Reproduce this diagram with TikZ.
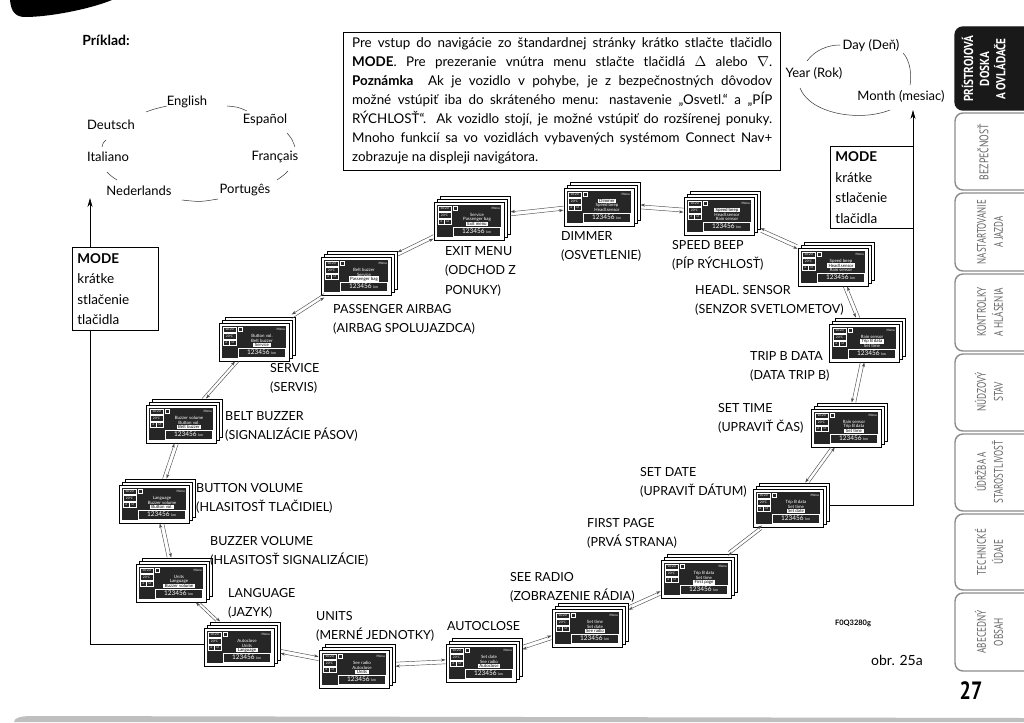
\documentclass[tikz,border=0pt]{standalone}
\usepackage{fontspec}
\setmainfont{Lato}
\newfontfamily\tabfont{PT Sans}
\usetikzlibrary{arrows.meta}

\newcommand\dispbox[7]{%
  \ifnum#7=1 \def\stA{hlon}\else\def\stA{hloff}\fi
  \ifnum#7=2 \def\stB{hlon}\else\def\stB{hloff}\fi
  \ifnum#7=3 \def\stC{hlon}\else\def\stC{hloff}\fi
  \begin{scope}[shift={(#2,#3)}]
    \filldraw[scrframe] (6,-6) rectangle (76,32);
    \filldraw[scrframe] (3,-3) rectangle (73,35);
    \filldraw[scrframe] (0,0) rectangle (70,38);
    \fill[scrbg] (3,3) rectangle (67,35);
    \draw[scrline] (4,4) rectangle (17,9.5) (4,10.5) rectangle (17,16)
      (4,17) rectangle (10.5,22.5) (10.5,17) rectangle (17,22.5)
      (19.5,4.5) rectangle (23.5,8.5) (19,25) rectangle (66,34);
    \node[scrsmall] at (10.5,6.75) {10:20};
    \node[scrsmall] at (10.5,13.25) {20°C};
    \node[scrsmall] at (7.25,19.75) {2};
    \node[scrsmall] at (13.75,19.75) {D};
    \node[scrsmall,anchor=east] at (66,6.5) {Menu};
    \node[scrtxt,\stA] at (43,13) {#4};
    \node[scrtxt,\stB] at (43,17.5) {#5};
    \node[scrtxt,\stC] at (43,22) {#6};
    \node[scrkm] at (42.5,29.5) {123456 {\fontsize{3.5}{3.5}\selectfont km}};
  \end{scope}
  \node[hitbox] (#1) at (#2+38,#3+16) {};
}
\newcommand\linkh[2]{%
  \draw[conn,transform canvas={yshift=2pt}] (#1) -- (#2);
  \draw[conn,transform canvas={yshift=-2pt}] (#2) -- (#1);}
\newcommand\linkv[2]{%
  \draw[conn,transform canvas={xshift=2pt}] (#1) -- (#2);
  \draw[conn,transform canvas={xshift=-2pt}] (#2) -- (#1);}

\begin{document}
\begin{tikzpicture}[x=1pt,y=-1pt,
  conn/.style={draw=black!70,line width=0.45pt,-{Stealth[length=4.5pt,width=3pt]}},
  scrframe/.style={fill=white,draw=black,line width=0.45pt},
  scrbg/.style={fill=black!85},
  scrline/.style={draw=white,line width=0.3pt},
  scrsmall/.style={text=white,font=\fontsize{3.2}{3.2}\selectfont,inner sep=0pt},
  scrtxt/.style={font=\fontsize{4.4}{4.4}\selectfont,inner sep=0.5pt},
  hlon/.style={fill=white,text=black,inner xsep=1.5pt},
  hloff/.style={text=white},
  scrkm/.style={text=white,font=\fontsize{6.5}{6.5}\selectfont,inner sep=0pt},
  hitbox/.style={minimum width=76pt,minimum height=44pt,inner sep=0pt,outer sep=0.5pt},
  lbl/.style={anchor=north west,align=left,inner sep=0pt,font=\fontsize{12.5}{19.5}\selectfont},
  ring/.style={inner sep=0pt,font=\fontsize{13}{15}\selectfont},
  arc/.style={draw=black!80,line width=0.5pt},
  modearrow/.style={draw=black,line width=0.7pt,-{Stealth[length=9pt,width=5pt]}},
  modebox/.style={draw=black,line width=0.8pt,fill=white,anchor=north west,align=left,
     text width=76pt,inner xsep=5pt,inner ysep=0pt,font=\fontsize{13.5}{20.5}\selectfont},
  tabedge/.style={draw=black!45,line width=1.4pt,rounded corners=8pt},
  tabtxt/.style={rotate=90,inner sep=0pt,text=black!60,font=\tabfont\fontsize{12.5}{17}\selectfont}
]
\useasboundingbox (0,0) rectangle (1024,722);
\fill[white] (0,0) rectangle (1024,722);

% scan edges
\fill[black] (10,0) -- (112,0) .. controls (90,9) and (50,17) .. (25,17)
  .. controls (15,17) and (11,11) .. (10,0) -- cycle;
\fill[black!25] (14,722) .. controls (14,718) and (20,716) .. (32,716) -- (1024,718) -- (1024,722) -- cycle;

\node[inner sep=0pt,font=\bfseries\fontsize{14}{16}\selectfont] (prik) at (106,40) {Príklad:};

% language ring
\node[ring] (de) at (111,125) {Deutsch};
\node[ring] (en) at (187,102) {English};
\node[ring] (es) at (265,120) {Español};
\node[ring] (it) at (108,157) {Italiano};
\node[ring] (fr) at (275,157) {Français};
\node[ring] (nl) at (139,191) {Nederlands};
\node[ring] (pt) at (245,190) {Portugês};
\draw[arc] (146,112) .. controls (154,109) .. (167,106);
\draw[arc] (227,106) .. controls (238,107) .. (247,111);
\draw[arc] (287,133) .. controls (292,139) .. (295,147);
\draw[arc] (288,171) .. controls (284,175) .. (277,180);
\draw[arc] (182,200) .. controls (200,202) .. (218,199);
\draw[arc] (107,172) .. controls (111,176) .. (117,180);
\draw[arc] (102,147) .. controls (103,143) .. (106,140);

% date ring
\node[ring] (day) at (871,46) {Day (Deň)};
\node[ring] (year) at (814,73) {Year (Rok)};
\node[ring] (month) at (901,96) {Month (mesiac)};
\draw[arc] (807,61) .. controls (815,50) and (828,45) .. (840,45);
\draw[arc] (903,53) .. controls (910,60) and (912,75) .. (910,85);
\draw[arc] (890,110) .. controls (860,122) and (810,114) .. (800,88);

% info box
\draw[line width=0.8pt] (343,32) rectangle (780,170);
\node[anchor=north west,inner sep=0pt,align=left,font=\fontsize{13.4}{19}\selectfont] (info) at (352,37) {%
\makebox[420pt][s]{Pre vstup do navigácie zo štandardnej stránky krátko stlačte tlačidlo}\\
\makebox[420pt][s]{\textbf{MODE}. Pre prezeranie vnútra menu stlačte tlačidlá $\Delta$ alebo $\nabla$.}\\
\makebox[420pt][s]{\textbf{Poznámka}\ \ Ak je vozidlo v pohybe, je z bezpečnostných dôvodov}\\
\makebox[420pt][s]{možné vstúpiť iba do skráteného menu: nastavenie „Osvetl.“ a „PÍP}\\
\makebox[420pt][s]{RÝCHLOSŤ“. Ak vozidlo stojí, je možné vstúpiť do rozšírenej ponuky.}\\
\makebox[420pt][s]{Mnoho funkcií sa vo vozidlách vybavených systémom Connect Nav+}\\
zobrazuje na displeji navigátora.};

% screens
\dispbox{LANG}{204}{628}{Autoclose}{Units}{Language}{3}
\dispbox{UNITS}{319}{650}{See radio}{Autoclose}{Units}{3}
\dispbox{AUTO}{446}{644}{Set date}{See radio}{Autoclose}{3}
\dispbox{SEE}{552}{609}{Set time}{Set date}{See radio}{3}
\dispbox{FIRST}{661}{560}{Trip B data}{Set time}{First page}{3}
\dispbox{DATE}{753}{489}{Trip B data}{Set time}{Set date}{3}
\dispbox{TIME}{811}{409}{Rain sensor}{Trip B data}{Set time}{3}
\dispbox{TRIP}{829}{324}{Rain sensor}{Trip B data}{Set time}{2}
\dispbox{HEADL}{798}{248}{Speed beep}{Headl.sensor}{Rain sensor}{2}
\dispbox{SPEED}{684}{197}{Speed beep}{Headl.sensor}{Rain sensor}{1}
\dispbox{DIMMER}{564}{188}{Dimmer}{Speed beep}{Headl.sensor}{1}
\dispbox{EXIT}{434}{202}{Service}{Passenger bag}{Exit menu}{3}
\dispbox{PASS}{321}{257}{Belt buzzer}{Service}{Passenger bag}{3}
\dispbox{SERV}{219}{323}{Button vol.}{Belt buzzer}{Service}{3}
\dispbox{BELT}{146}{405}{Buzzer volume}{Button vol.}{Belt buzzer}{3}
\dispbox{BUTTON}{119}{485}{Language}{Buzzer volume}{Button vol.}{3}
\dispbox{BUZZ}{136}{564}{Units}{Language}{Buzzer volume}{3}

% connectors
\linkh{LANG}{UNITS}
\linkh{UNITS}{AUTO}
\linkh{AUTO}{SEE}
\linkh{SEE}{FIRST}
\linkh{FIRST}{DATE}
\linkv{DATE}{TIME}
\linkv{TIME}{TRIP}
\linkv{TRIP}{HEADL}
\linkh{HEADL}{SPEED}
\linkh{SPEED}{DIMMER}
\linkh{DIMMER}{EXIT}
\linkh{EXIT}{PASS}
\linkh{PASS}{SERV}
\linkv{SERV}{BELT}
\linkv{BELT}{BUTTON}
\linkv{BUTTON}{BUZZ}
\linkv{BUZZ}{LANG}

% labels
\node[lbl] (tEXIT) at (445,246) {EXIT MENU\\(ODCHOD Z\\PONUKY)};
\node[lbl] (tDIM) at (561,231) {DIMMER\\(OSVETLENIE)};
\node[lbl] (tSPD) at (672,240) {SPEED BEEP\\(PÍP RÝCHLOSŤ)};
\node[lbl] (tHDL) at (695,285) {HEADL. SENSOR\\(SENZOR SVETLOMETOV)};
\node[lbl] (tTRP) at (750,351) {TRIP B DATA\\(DATA TRIP B)};
\node[lbl] (tTIM) at (718,403) {SET TIME\\(UPRAVIŤ ČAS)};
\node[lbl] (tDAT) at (640,467) {SET DATE\\(UPRAVIŤ DÁTUM)};
\node[lbl] (tFST) at (587,518) {FIRST PAGE\\(PRVÁ STRANA)};
\node[lbl] (tSEE) at (510,572) {SEE RADIO\\(ZOBRAZENIE RÁDIA)};
\node[lbl] (tAUT) at (447,621) {AUTOCLOSE};
\node[lbl] (tUNI) at (316,611) {UNITS\\(MERNÉ JEDNOTKY)};
\node[lbl] (tLNG) at (228,588) {LANGUAGE\\(JAZYK)};
\node[lbl] (tBZV) at (210,536) {BUZZER VOLUME\\(HLASITOSŤ SIGNALIZÁCIE)};
\node[lbl] (tBTV) at (196,483) {BUTTON VOLUME\\(HLASITOSŤ TLAČIDIEL)};
\node[lbl] (tBLT) at (225,411) {BELT BUZZER\\(SIGNALIZÁCIE PÁSOV)};
\node[lbl] (tSRV) at (270,363) {SERVICE\\(SERVIS)};
\node[lbl] (tPAS) at (333,304) {PASSENGER AIRBAG\\(AIRBAG SPOLUJAZDCA)};

% MODE paths
\coordinate (lm) at (90,198);
\coordinate (rm) at (913,110);
\draw[modearrow] (LANG.west) -| (lm);
\draw[modearrow] (DATE.east) -| (rm);
\node[modebox,minimum height=83pt] (mode1) at (72,247) {\textbf{MODE}\\krátke\\stlačenie\\tlačidla};
\node[modebox,minimum height=82pt,text width=73pt] (mode2) at (830,146) {\textbf{MODE}\\krátke\\stlačenie\\tlačidla};

% figure refs
\node[inner sep=0pt,font=\bfseries\fontsize{7.5}{8}\selectfont] (fcode) at (853,623) {F0Q3280g};
\node[inner sep=0pt,font=\fontsize{14}{16}\selectfont] (obr) at (897,660) {obr. 25a};

% side tabs
\filldraw[fill=black!90,draw=black!90,line width=1.4pt,rounded corners=8pt] (955,27) rectangle (1040,110);
\foreach \a/\b in {113/190,193/271,274/351,354/431,434/511,514/590,593/671}
  \draw[tabedge] (955,\a) rectangle (1040,\b);
\node[tabtxt,text=white,font=\tabfont\bfseries\fontsize{13}{16}\selectfont] (tab1) at (986,69)
  {\scalebox{0.86}[1]{\begin{tabular}{@{}c@{}}PRÍSTROJOVÁ\\DOSKA\\A OVLÁDAČE\end{tabular}}};
\node[tabtxt] (tab2) at (983,152) {\scalebox{0.78}[1]{BEZPEČNOSŤ}};
\node[tabtxt] (tab3) at (991,232) {\scalebox{0.72}[1]{\begin{tabular}{@{}c@{}}NASTARTOVANIE\\A JAZDA\end{tabular}}};
\node[tabtxt] (tab4) at (991,312) {\scalebox{0.74}[1]{\begin{tabular}{@{}c@{}}KONTROLKY\\A HLÁSENIA\end{tabular}}};
\node[tabtxt] (tab5) at (991,392) {\scalebox{0.74}[1]{\begin{tabular}{@{}c@{}}NÚDZOVÝ\\STAV\end{tabular}}};
\node[tabtxt] (tab6) at (991,472) {\scalebox{0.72}[1]{\begin{tabular}{@{}c@{}}ÚDRŽBA A\\STAROSTLIVOSŤ\end{tabular}}};
\node[tabtxt] (tab7) at (991,552) {\scalebox{0.74}[1]{\begin{tabular}{@{}c@{}}TECHNICKÉ\\ÚDAJE\end{tabular}}};
\node[tabtxt] (tab8) at (991,632) {\scalebox{0.74}[1]{\begin{tabular}{@{}c@{}}ABECEDNÝ\\OBSAH\end{tabular}}};
\node[inner sep=0pt,font=\tabfont\bfseries\fontsize{25}{27}\selectfont] (pg) at (971,691) {\scalebox{0.8}[1]{27}};
\end{tikzpicture}
\end{document}
